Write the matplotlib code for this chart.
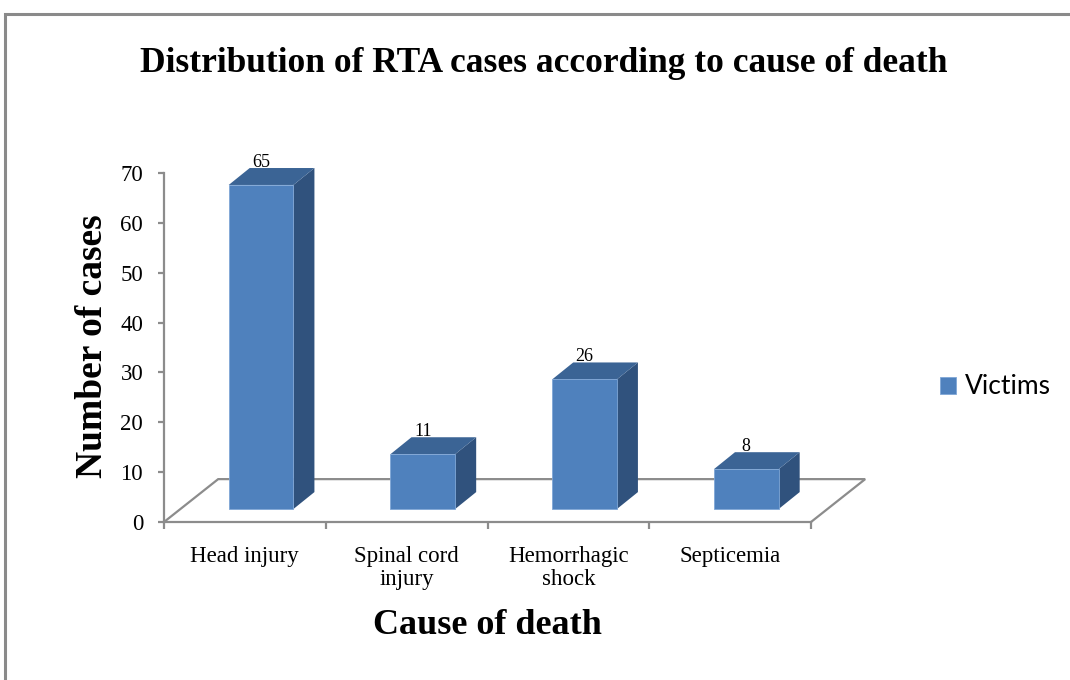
import matplotlib.pyplot as plt
import numpy as np
from matplotlib.patches import Polygon, Rectangle

causes = ['Head injury', 'Spinal cord\ninjury', 'Hemorrhagic\nshock', 'Septicemia']
victims = [65, 11, 26, 8]
series_name = 'Victims'

front_col = '#4F81BD'
side_col = '#30527D'
top_col = '#3B6495'
axis_col = '#8C8C8C'
serif = 'Liberation Serif'

# fake 3d offsets, in data units (categories / cases)
front_dx, front_dy = 0.10, 2.6
depth_dx, depth_dy = 0.13, 3.4
floor_dx, floor_dy = 0.335, 8.6
bar_w = 0.4

fig = plt.figure(figsize=(10.7, 6.8), dpi=100)
ax = fig.add_axes([164 / 1070, 1 - 522 / 680, 647 / 1070, 349 / 680])
ax.set_xlim(0, 4)
ax.set_ylim(0, 70)

# floor
n = len(causes)
floor = Polygon([(0, 0), (floor_dx, floor_dy), (n + floor_dx, floor_dy), (n, 0)],
                closed=False, fill=False, edgecolor=axis_col, lw=1.6, clip_on=False, zorder=1)
ax.add_patch(floor)

x = np.arange(n) + 0.5
for xi, v in zip(x, victims):
    x0 = xi - bar_w / 2 + front_dx
    x1 = xi + bar_w / 2 + front_dx
    y0 = front_dy
    y1 = front_dy + v
    ax.add_patch(Polygon([(x1, y0), (x1 + depth_dx, y0 + depth_dy), (x1 + depth_dx, y1 + depth_dy), (x1, y1)],
                         facecolor=side_col, edgecolor='none', clip_on=False, zorder=2))
    ax.add_patch(Polygon([(x0, y1), (x0 + depth_dx, y1 + depth_dy), (x1 + depth_dx, y1 + depth_dy), (x1, y1)],
                         facecolor=top_col, edgecolor='none', clip_on=False, zorder=2))
    ax.text(xi + front_dx, y1 + depth_dy - 0.5, str(v), ha='center', va='bottom',
            family=serif, fontsize=13, zorder=4)

ax.bar(x + front_dx, victims, bottom=front_dy, width=bar_w, color=front_col,
       edgecolor='#7FA6D6', linewidth=0.6, label=series_name, clip_on=False, zorder=3)

for s in ['top', 'right']:
    ax.spines[s].set_visible(False)
for s in ['left', 'bottom']:
    ax.spines[s].set_color(axis_col)
    ax.spines[s].set_linewidth(1.6)

ax.set_yticks(np.arange(0, 71, 10))
ax.set_xticks(x)
ax.set_xticklabels(causes, family=serif, fontsize=16.5, linespacing=1.15)
ax.set_xticks(np.arange(0, n + 1), minor=True)
ax.tick_params(axis='x', which='major', length=0, pad=17)
ax.tick_params(axis='x', which='minor', length=5, width=1.6, color=axis_col)
ax.tick_params(axis='y', length=4, width=1.6, color=axis_col, pad=11, labelsize=16.5)
for lbl in ax.get_yticklabels():
    lbl.set_family(serif)

fig.text(0.508, 1 - 63 / 680, 'Distribution of RTA cases according to cause of death',
         ha='center', va='center', family=serif, fontweight='bold', fontsize=25.5)
fig.text(487 / 1070, 1 - 626 / 680, 'Cause of death', ha='center', va='center',
         family=serif, fontweight='bold', fontsize=26)
fig.text(92 / 1070, 1 - 346 / 680, 'Number of cases', ha='center', va='center', rotation=90,
         family=serif, fontweight='bold', fontsize=27)

fig.legend(loc='center left', bbox_to_anchor=(916 / 1070, 1 - 387 / 680), frameon=False,
           prop={'family': 'Lato', 'size': 19}, handlelength=0.6, handleheight=0.6,
           handletextpad=0.35)

# chart border
fig.patches.append(Rectangle((5 / 1070, -0.05), 1.1, 1 - 14 / 680 + 0.05, transform=fig.transFigure,
                             fill=False, edgecolor='#8A8A8A', lw=2.2))

fig.savefig('out.png', dpi=100)
